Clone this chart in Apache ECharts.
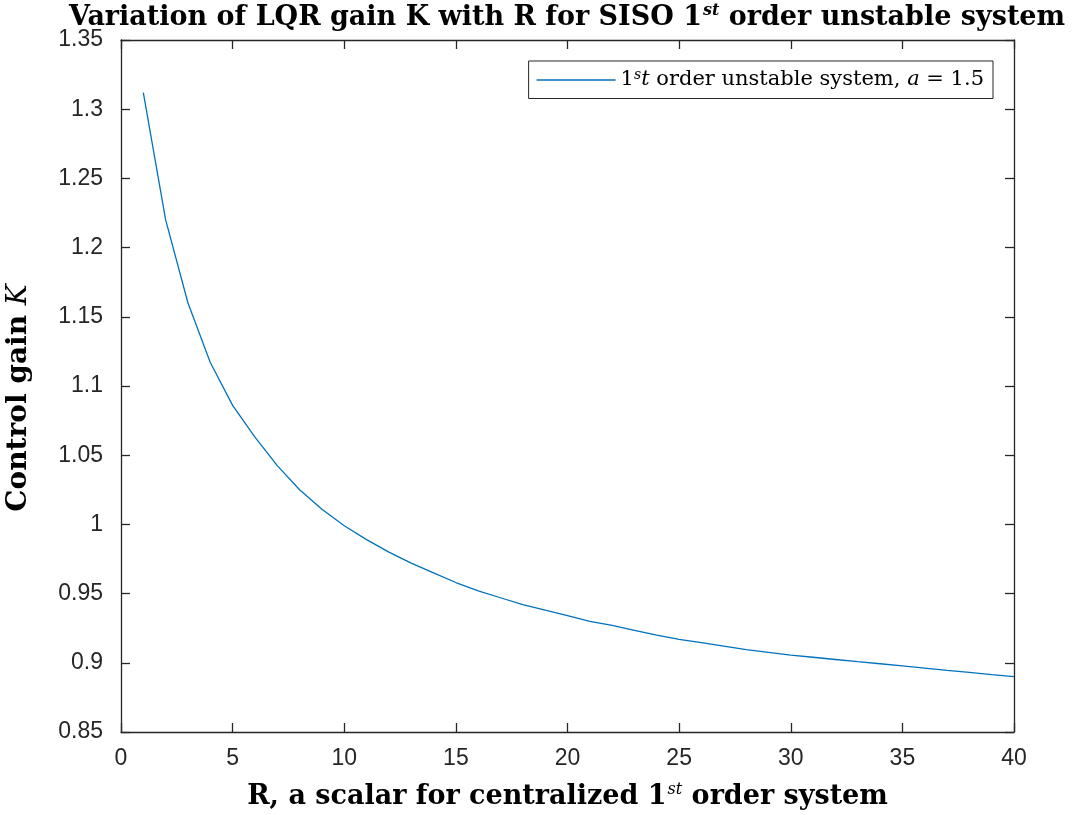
<!DOCTYPE html>
<html>
<head>
<meta charset="utf-8">
<script src="https://cdn.jsdelivr.net/npm/echarts@6/dist/echarts.min.js"></script>
<style>
  html, body { margin: 0; padding: 0; background: #fff; }
  #chart { width: 1083px; height: 815px; }
</style>
</head>
<body>
<div id="chart"></div>
<script>
// Weighting R (scalar) for the centralized first-order system
const rValues = [1, 2, 3, 4, 5, 6, 7, 8, 9, 10,
                 11, 12, 13, 14, 15, 16, 17, 18, 19, 20,
                 21, 22, 23, 24, 25, 26, 27, 28, 29, 30,
                 31, 32, 33, 34, 35, 36, 37, 38, 39, 40];
// LQR gain K obtained for each R (a = 1.5)
const gainK = [1.312, 1.220, 1.160, 1.117, 1.086, 1.063, 1.0425, 1.025, 1.011, 0.999,
               0.989, 0.980, 0.972, 0.965, 0.958, 0.952, 0.947, 0.942, 0.938, 0.934,
               0.930, 0.927, 0.9235, 0.920, 0.917, 0.9145, 0.912, 0.9095, 0.9075, 0.9055,
               0.904, 0.9024, 0.9008, 0.8993, 0.8978, 0.8962, 0.8946, 0.8931, 0.8915, 0.890];
const xTicks = { min: 0, max: 40, step: 5 };
const yTicks = { min: 0.85, max: 1.35, step: 0.05 };

const seriesData = rValues.map((r, i) => [r, gainK[i]]);

const axisColor = '#262626';
const lineColor = '#0072BD';
const serif = '"DejaVu Serif", "Liberation Serif", serif';
const sans = '"Liberation Sans", Arial, Helvetica, sans-serif';

const fmt = v => String(parseFloat(Number(v).toFixed(2)));

const bold = size => ({ fontFamily: serif, fontWeight: 'bold', fontSize: size, color: '#000' });
const sup = size => ({ fontFamily: serif, fontStyle: 'italic', fontSize: Math.round(size * 0.6), color: '#000', verticalAlign: 'top', padding: [0, 0, Math.round(size * 0.48), 1] });

const chart = echarts.init(document.getElementById('chart'), null, { renderer: 'canvas' });

const baseAxis = {
  axisLine: { show: true, onZero: false, lineStyle: { color: axisColor, width: 1.3 } },
  axisTick: { show: true, inside: true, length: 9, lineStyle: { color: axisColor, width: 1.3 } },
  splitLine: { show: false }
};

chart.setOption({
  backgroundColor: '#ffffff',
  animation: false,
  title: {
    text: '{t|Variation of LQR gain K with R for SISO 1}{sup|st}{t| order unstable system}',
    // centred over the middle of the plot area
    left: 567,
    textAlign: 'center',
    top: 3,
    padding: 0,
    textStyle: { rich: { t: bold(27), sup: sup(27) } }
  },
  grid: { left: 121, right: 69, top: 40, bottom: 83, containLabel: false, outerBoundsMode: 'none' },
  legend: {
    show: true,
    right: 90,
    top: 61,
    orient: 'vertical',
    backgroundColor: '#fff',
    borderColor: axisColor,
    borderWidth: 1,
    borderRadius: 0,
    padding: [7, 9, 8, 8],
    itemWidth: 79,
    itemHeight: 14,
    itemGap: 0,
    icon: 'path://M0,7 L79,7 L79,8.3 L0,8.3 Z',
    formatter: () => '{n|1}{sup|s}{i|t}{n| order unstable system, }{i|a}{n| = 1.5}',
    textStyle: {
      rich: {
        n: { fontFamily: serif, fontSize: 21, color: '#000' },
        i: { fontFamily: serif, fontStyle: 'italic', fontSize: 21, color: '#000' },
        sup: { fontFamily: serif, fontStyle: 'italic', fontSize: 14, color: '#000', verticalAlign: 'top', padding: [0, 0, 10, 0] }
      }
    },
    data: [{ name: 'gain', itemStyle: { color: lineColor } }]
  },
  xAxis: [
    Object.assign({}, baseAxis, {
      type: 'value',
      min: xTicks.min, max: xTicks.max, interval: xTicks.step,
      position: 'bottom',
      axisLabel: { color: axisColor, fontFamily: sans, fontSize: 23, margin: 15, formatter: fmt },
      name: '{t|R, a scalar for centralized 1}{sup|st}{t| order system}',
      nameLocation: 'middle',
      nameGap: 50,
      nameTextStyle: { rich: { t: bold(27), sup: sup(27) } }
    }),
    Object.assign({}, baseAxis, {
      type: 'value',
      min: xTicks.min, max: xTicks.max, interval: xTicks.step,
      position: 'top',
      axisLabel: { show: false }
    })
  ],
  yAxis: [
    Object.assign({}, baseAxis, {
      type: 'value',
      min: yTicks.min, max: yTicks.max, interval: yTicks.step,
      position: 'left',
      axisLabel: { color: axisColor, fontFamily: sans, fontSize: 23, margin: 18, formatter: fmt },
      name: '{t|Control gain }{i|K}',
      nameLocation: 'middle',
      nameGap: 88,
      nameRotate: 90,
      nameTextStyle: {
        padding: [0, 24, 0, 0],
        rich: {
          t: bold(28),
          i: { fontFamily: serif, fontStyle: 'italic', fontSize: 28, color: '#000' }
        }
      }
    }),
    Object.assign({}, baseAxis, {
      type: 'value',
      min: yTicks.min, max: yTicks.max, interval: yTicks.step,
      position: 'right',
      axisLabel: { show: false }
    })
  ],
  series: [{
    name: 'gain',
    type: 'line',
    xAxisIndex: 0,
    yAxisIndex: 0,
    data: seriesData,
    showSymbol: false,
    symbol: 'none',
    smooth: false,
    lineStyle: { color: lineColor, width: 1.3 },
    itemStyle: { color: lineColor }
  }]
});
</script>
</body>
</html>
